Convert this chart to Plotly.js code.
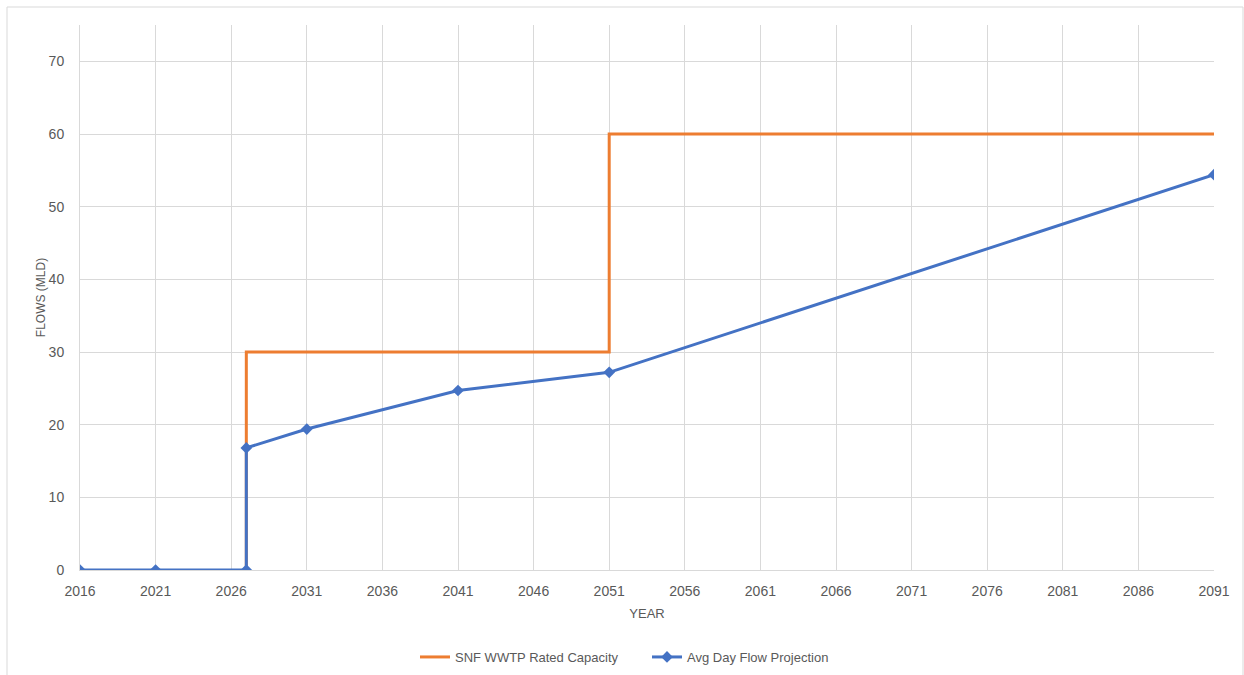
<!DOCTYPE html>
<html>
<head>
<meta charset="utf-8">
<script src="https://cdn.plot.ly/plotly-3.0.1.min.js"></script>
<style>
  html, body { margin: 0; padding: 0; background: #ffffff; }
  #chart { width: 1244px; height: 675px; }
</style>
</head>
<body>
<div id="chart"></div>
<script>
// Data
const capacityYears = [2027, 2027, 2051, 2051, 2091];
const capacityFlows = [0, 30, 30, 60, 60];

const flowYears = [2016, 2021, 2027, 2027, 2031, 2041, 2051, 2091];
const flowValues = [0, 0, 0, 16.8, 19.4, 24.7, 27.2, 54.4];

const seriesNames = ["SNF WWTP Rated Capacity", "Avg Day Flow Projection"];
const xTickValues = [2016, 2021, 2026, 2031, 2036, 2041, 2046, 2051, 2056, 2061, 2066, 2071, 2076, 2081, 2086, 2091];
const yTickValues = [0, 10, 20, 30, 40, 50, 60, 70];

const FONT = "Liberation Sans, Arial, sans-serif";
const TXT = "#595959";
const GRID = "#d9d9d9";

const traces = [
  {
    x: capacityYears, y: capacityFlows,
    name: seriesNames[0],
    type: "scatter", mode: "lines",
    line: { color: "#ED7D31", width: 3 },
    hoverinfo: "x+y"
  },
  {
    x: flowYears, y: flowValues,
    name: seriesNames[1],
    type: "scatter", mode: "lines+markers",
    line: { color: "#4472C4", width: 3 },
    marker: { symbol: "diamond", size: 9, color: "#4472C4" },
    hoverinfo: "x+y"
  }
];

const layout = {
  width: 1244, height: 675,
  margin: { l: 80, r: 30, t: 25, b: 105 },
  paper_bgcolor: "#ffffff",
  plot_bgcolor: "#ffffff",
  font: { family: FONT, size: 14, color: TXT },
  showlegend: true,
  legend: {
    orientation: "h",
    xref: "container", yref: "container",
    x: 415 / 1244, xanchor: "left",
    y: (675 - 657) / 675, yanchor: "middle",
    font: { family: FONT, size: 13, color: TXT },
    itemwidth: 30,
    entrywidth: 187
  },
  xaxis: {
    range: [2016, 2091],
    automargin: false,
    tickvals: xTickValues,
    ticktext: xTickValues.map(String),
    tickfont: { family: FONT, size: 14, color: TXT },
    showgrid: true, gridcolor: GRID, gridwidth: 1,
    zeroline: false,
    showline: true, linecolor: GRID, linewidth: 1,
    ticks: "", ticklabelstandoff: 8,
    title: { text: "YEAR", font: { family: FONT, size: 13, color: TXT }, standoff: 11 },
    fixedrange: true
  },
  yaxis: {
    range: [0, 75],
    automargin: false,
    tickvals: yTickValues,
    tickfont: { family: FONT, size: 14, color: TXT },
    showgrid: true, gridcolor: GRID, gridwidth: 1,
    zeroline: false,
    showline: true, linecolor: GRID, linewidth: 1,
    ticks: "", ticklabelstandoff: 12,
    title: { text: "FLOWS (MLD)", font: { family: FONT, size: 12, color: TXT }, standoff: 0 },
    fixedrange: true
  },
  shapes: [
    {
      type: "rect", xref: "paper", yref: "paper",
      x0: (7 - 80) / 1134, x1: (1243 - 80) / 1134,
      y0: (570 - 690) / 545, y1: (570 - 7) / 545,
      line: { color: GRID, width: 1 },
      fillcolor: "rgba(0,0,0,0)",
      layer: "below"
    }
  ]
};

Plotly.newPlot("chart", traces, layout, { displayModeBar: false, staticPlot: true });
</script>
</body>
</html>
